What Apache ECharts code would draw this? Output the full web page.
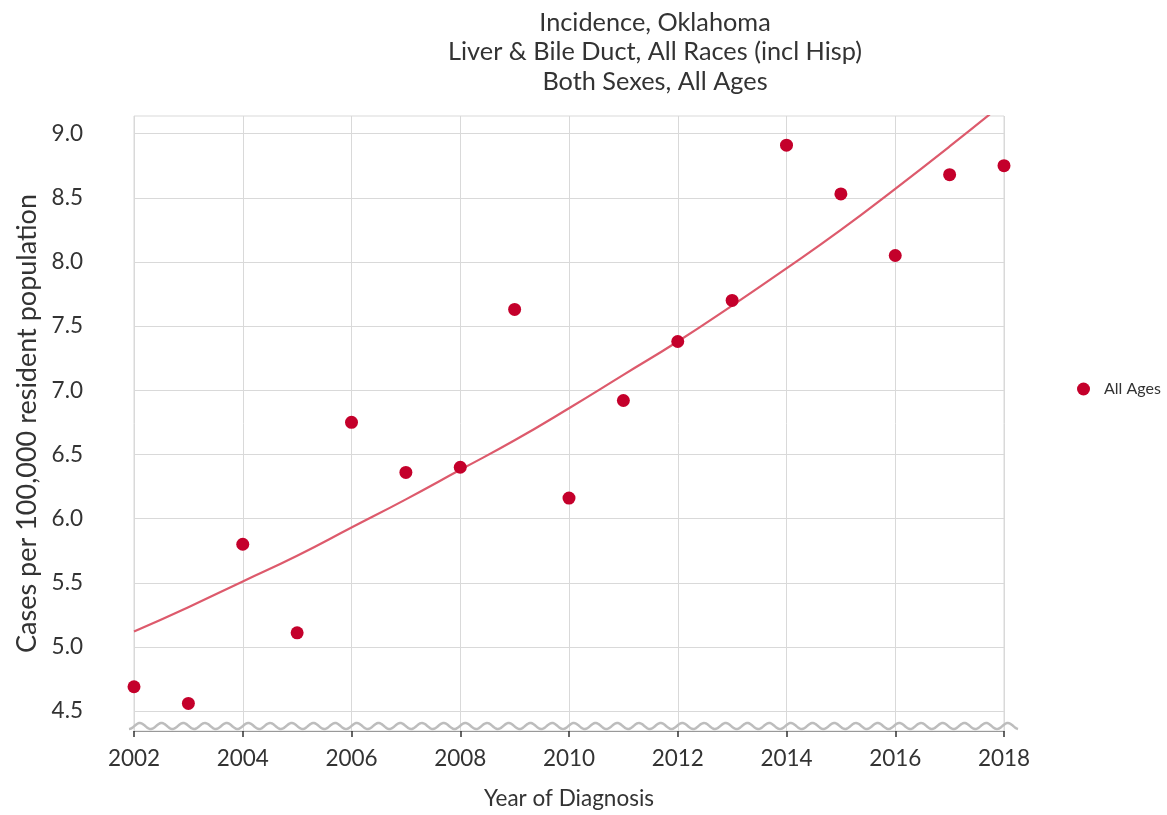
<!DOCTYPE html>
<html>
<head>
<meta charset="utf-8">
<script src="https://cdn.jsdelivr.net/npm/echarts@6/dist/echarts.min.js"></script>
<style>
html,body{margin:0;padding:0;background:#fff;}
#chart{width:1167px;height:815px;}
</style>
</head>
<body>
<div id="chart"></div>
<script>
var titleLines = ["Incidence, Oklahoma", "Liver & Bile Duct, All Races (incl Hisp)", "Both Sexes, All Ages"];
var years = [2002, 2003, 2004, 2005, 2006, 2007, 2008, 2009, 2010, 2011, 2012, 2013, 2014, 2015, 2016, 2017, 2018];
var observedRates = [4.69, 4.56, 5.80, 5.11, 6.75, 6.36, 6.40, 7.63, 6.16, 6.92, 7.38, 7.70, 8.91, 8.53, 8.05, 8.68, 8.75];
var trendRates = [5.12, 5.31, 5.51, 5.71, 5.93, 6.15, 6.38, 6.61, 6.86, 7.12, 7.38, 7.66, 7.95, 8.25, 8.57, 8.90, 9.24];
var yTickValues = [4.5, 5.0, 5.5, 6.0, 6.5, 7.0, 7.5, 8.0, 8.5, 9.0];
var seriesName = "All Ages";
var xAxisName = "Year of Diagnosis";
var yAxisName = "Cases per 100,000 resident population";

var FONT = "Lato";
var TXT = "#333";

var scatterData = years.map(function (y, i) { return [y, observedRates[i]]; });
var trendData = years.map(function (y, i) { return [y, trendRates[i]]; });

var chart = echarts.init(document.getElementById('chart'), null, {renderer: 'canvas'});
var option = {
  backgroundColor: '#fff',
  animation: false,
  title: {
    text: titleLines.join('\n'),
    left: 650, top: 3, textAlign: 'center',
    textStyle: {fontFamily: FONT, fontSize: 25.3, fontWeight: 'normal', color: TXT, lineHeight: 29.5}
  },
  legend: {
    data: [{name: seriesName, icon: 'circle'}],
    orient: 'vertical',
    left: 1072, top: 376,
    itemWidth: 13, itemHeight: 13,
    textStyle: {fontFamily: FONT, fontSize: 16, color: TXT, padding: [0, 0, 0, 9]}
  },
  grid: {left: 134, right: 163, top: 116, bottom: 83, containLabel: false,
    show: true, borderColor: '#d9d9d9', borderWidth: 1, backgroundColor: 'transparent'},
  xAxis: {
    type: 'value', min: 2002, max: 2018, interval: 2,
    name: xAxisName, nameLocation: 'middle', nameGap: 56,
    nameTextStyle: {fontFamily: FONT, fontSize: 22.5, color: TXT},
    axisLine: {show: true, lineStyle: {color: '#999', width: 1}},
    axisTick: {show: true, length: 6, lineStyle: {color: '#333', width: 1.5}},
    axisLabel: {fontFamily: FONT, fontSize: 22.5, color: TXT, margin: 16, formatter: function (v) { return String(v); }},
    splitLine: {show: true, lineStyle: {color: '#d9d9d9', width: 1}}
  },
  yAxis: {
    type: 'value', min: 4.345, max: 9.137,
    name: yAxisName, nameLocation: 'middle', nameGap: 93, nameRotate: 90,
    nameTextStyle: {fontFamily: FONT, fontSize: 27, color: TXT},
    axisLine: {show: false},
    axisTick: {show: false, customValues: yTickValues},
    axisLabel: {fontFamily: FONT, fontSize: 22.5, color: TXT, margin: 51, customValues: yTickValues,
      formatter: function (v) { return v.toFixed(1); }},
    splitLine: {show: true, lineStyle: {color: '#d9d9d9', width: 1}}
  },
  series: [
    {
      name: 'Trend', type: 'line', data: trendData, smooth: true, showSymbol: false, symbol: 'none',
      lineStyle: {color: '#dd5a6c', width: 2.2}, clip: true, z: 2, silent: true
    },
    {
      name: seriesName, type: 'scatter', data: scatterData, symbol: 'circle', symbolSize: 13,
      itemStyle: {color: '#c4002b', opacity: 1}, z: 3
    }
  ]
};
chart.setOption(option);

// decorative axis-break wave just above the x-axis line
var pA = chart.convertToPixel({gridIndex: 0}, [2002, 4.345]);
var pB = chart.convertToPixel({gridIndex: 0}, [2018, 4.345]);
var wx0 = pA[0] - 5, wx1 = pB[0] + 14, wy = pA[1] - 5;
var pts = [];
var wl = 21.7, amp = 3;
for (var x = wx0; x <= wx1; x += 1) {
  pts.push([x, wy + amp * Math.cos((x - wx0) / wl * 2 * Math.PI)]);
}
chart.setOption({
  graphic: [{
    type: 'polyline', shape: {points: pts}, z: 10, silent: true,
    style: {stroke: '#bdbdbd', lineWidth: 2.5, fill: null}
  }]
});
</script>
</body>
</html>
